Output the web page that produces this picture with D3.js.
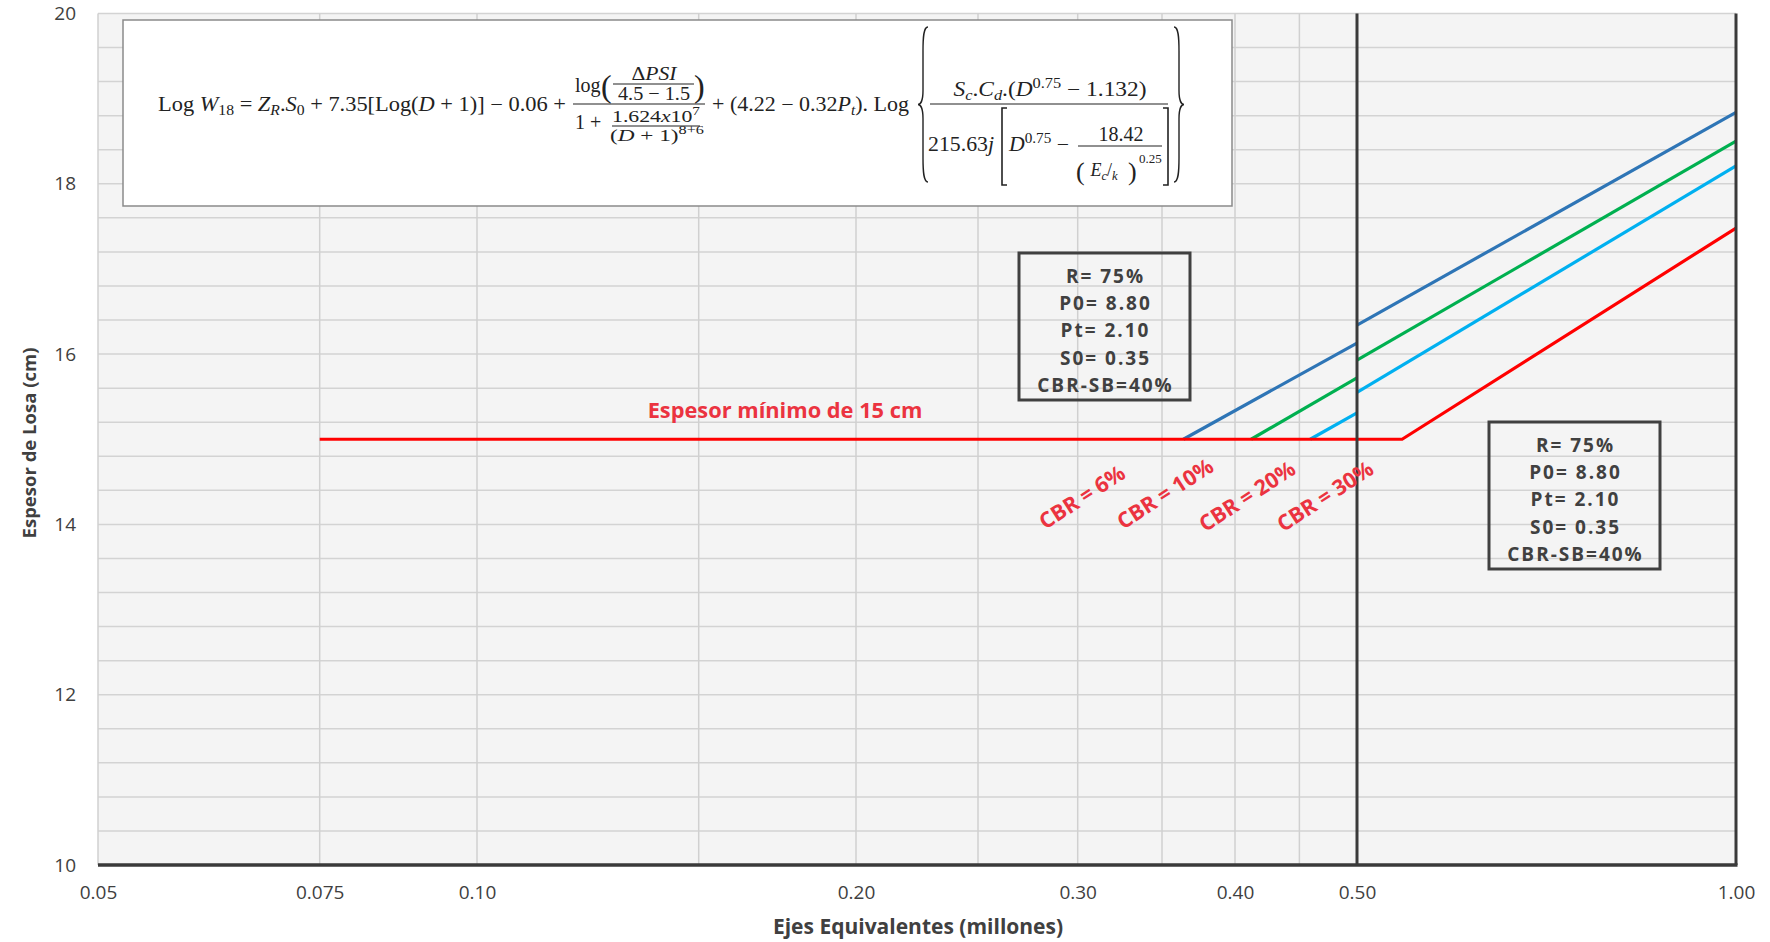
<!DOCTYPE html>
<html>
<head>
<meta charset="utf-8">
<script src="https://cdn.jsdelivr.net/npm/d3@7"></script>
<style>
  body { margin: 0; background: #fff; }
  svg text { font-family: "Open Sans", Lato, sans-serif; }
  .math text { font-family: "Liberation Serif", "DejaVu Serif", serif; fill: #222; }
</style>
</head>
<body>
<div id="chart"></div>
<script>
// values
var xTicks = [0.05, 0.075, 0.10, 0.20, 0.30, 0.40, 0.50, 1.00];
var xTickLabels = ["0.05", "0.075", "0.10", "0.20", "0.30", "0.40", "0.50", "1.00"];
var xGrid = [0.075, 0.10, 0.15, 0.20, 0.25, 0.30, 0.35, 0.40, 0.45];
var yTicks = [10, 12, 14, 16, 18, 20];
var yGrid = [10.4, 10.8, 11.2, 11.6, 12, 12.4, 12.8, 13.2, 13.6, 14, 14.4, 14.8,
             15.2, 15.6, 16, 16.4, 16.8, 17.2, 17.6, 18, 18.4, 18.8, 19.2, 19.6, 20];

// each curve: segment left of 0.50 and segment right of 0.50
var cbr6 = [[[0.364, 15], [0.50, 16.13]], [[0.50, 16.34], [1.00, 18.84]]];
var cbr10 = [[[0.412, 15], [0.50, 15.72]], [[0.50, 15.93], [1.00, 18.50]]];
var cbr20 = [[[0.459, 15], [0.50, 15.31]], [[0.50, 15.55], [1.00, 18.21]]];
var cbr30 = [[[0.075, 15], [0.543, 15], [1.00, 17.48]]];
var seriesNames = ["CBR = 6%", "CBR = 10%", "CBR = 20%", "CBR = 30%"];
var seriesColors = ["#2e75b6", "#00b050", "#00b0f0", "#ff0000"];
var params = ["R= 75%", "P0= 8.80", "Pt= 2.10", "S0= 0.35", "CBR-SB=40%"];

// label anchors (data coords)
var labelAt = [[0.3024, 14.32], [0.352, 14.36], [0.409, 14.33], [0.4717, 14.33]];

var W = 1770, H = 942;
var m = {l: 98, r: 34, t: 13.5, b: 77};

var svg = d3.select("#chart").append("svg")
    .attr("width", W)
    .attr("height", H);

var x = d3.scaleLog().domain([0.05, 1]).range([m.l, W - m.r]);
var y = d3.scaleLinear().domain([10, 20]).range([H - m.b, m.t]);

// plot area
svg.append("rect")
    .attr("x", x(0.05)).attr("y", y(20))
    .attr("width", x(1) - x(0.05)).attr("height", y(10) - y(20))
    .attr("fill", "#f4f4f4");

svg.append("g").selectAll("line").data(yGrid).join("line")
    .attr("x1", x(0.05)).attr("x2", x(1))
    .attr("y1", d => y(d)).attr("y2", d => y(d))
    .attr("stroke", "#d3d3d3").attr("stroke-width", 1.5);

svg.append("g").selectAll("line").data([0.05].concat(xGrid)).join("line")
    .attr("x1", d => x(d)).attr("x2", d => x(d))
    .attr("y1", y(20)).attr("y2", y(10))
    .attr("stroke", "#d0d0d0").attr("stroke-width", 1.5);

// formula box
var fg = svg.append("g").attr("class", "math");
fg.append("rect")
    .attr("x", 123).attr("y", 20).attr("width", 1109).attr("height", 186)
    .attr("fill", "#fff").attr("stroke", "#8a8a8a").attr("stroke-width", 1.5);

function mtext(px, py, size, parts, anchor, len) {
  var t = fg.append("text").attr("x", px).attr("y", py)
      .attr("font-size", size).attr("text-anchor", anchor || "start");
  if (len) t.attr("textLength", len).attr("lengthAdjust", "spacingAndGlyphs");
  parts.forEach(function(p) {
    var s = t.append("tspan").text(p[0]);
    var f = p[1] || "";
    if (f.indexOf("i") >= 0) s.attr("font-style", "italic");
    if (f.indexOf("b") >= 0) s.attr("font-size", size * 0.7).attr("baseline-shift", -size * 0.22);
    if (f.indexOf("p") >= 0) s.attr("font-size", size * 0.7).attr("baseline-shift", size * 0.42);
  });
  return t;
}
function bar(x1, x2, yy) {
  fg.append("line").attr("x1", x1).attr("x2", x2).attr("y1", yy).attr("y2", yy)
      .attr("stroke", "#222").attr("stroke-width", 1.2);
}
function brace(bx, y1, y2, dir) {
  var w = 10 * dir, ym = (y1 + y2) / 2, c = bx + w * 0.5;
  var p = "M" + (bx + w) + "," + y1 +
      " C" + (bx + w * 0.55) + "," + y1 + " " + c + "," + (y1 + 10) + " " + c + "," + (y1 + 24) +
      " L" + c + "," + (ym - 14) +
      " C" + c + "," + (ym - 4) + " " + (bx + w * 0.25) + "," + ym + " " + bx + "," + ym +
      " C" + (bx + w * 0.25) + "," + ym + " " + c + "," + (ym + 4) + " " + c + "," + (ym + 14) +
      " L" + c + "," + (y2 - 24) +
      " C" + c + "," + (y2 - 10) + " " + (bx + w * 0.55) + "," + y2 + " " + (bx + w) + "," + y2;
  fg.append("path").attr("d", p).attr("fill", "none").attr("stroke", "#222").attr("stroke-width", 1.4);
}
function bracket(bx, y1, y2, dir) {
  var s = 5 * dir;
  fg.append("path")
      .attr("d", "M" + (bx + s) + "," + y1 + " L" + bx + "," + y1 + " L" + bx + "," + y2 + " L" + (bx + s) + "," + y2)
      .attr("fill", "none").attr("stroke", "#222").attr("stroke-width", 1.6);
}

mtext(158, 111, 20, [["Log "], ["W", "i"], ["18", "b"], [" = "], ["Z", "i"], ["R", "ib"], ["."],
    ["S", "i"], ["0", "b"], [" + 7.35[Log("], ["D", "i"], [" + 1)] − 0.06 +"]], "start", 408);
// first fraction
mtext(575, 92, 20, [["log"]]);
mtext(601, 97, 32, [["("]]);
mtext(654, 80, 19, [["Δ"], ["PSI", "i"]], "middle", 45);
bar(613, 694, 84);
mtext(654, 100, 19, [["4.5 − 1.5"]], "middle", 72);
mtext(694, 97, 32, [[")"]]);
bar(573, 705, 104);
mtext(575, 129, 20, [["1 +"]]);
mtext(656, 122, 17, [["1.624"], ["x", "i"], ["10"], ["7", "p"]], "middle", 88);
bar(612, 700, 126);
mtext(657, 141, 17, [["("], ["D", "i"], [" + 1)"], ["8+6", "p"]], "middle", 94);

mtext(712, 111, 20, [["+ (4.22 − 0.32"], ["P", "i"], ["t", "ib"], ["). Log"]], "start", 197);
brace(918, 27, 182, 1);
brace(1184, 27, 182, -1);
mtext(1050, 96, 20, [["S", "i"], ["c", "ib"], ["."], ["C", "i"], ["d", "ib"], [".("], ["D", "i"],
    ["0.75", "p"], [" − 1.132)"]], "middle", 193);
bar(930, 1168, 104);
mtext(928, 151, 20, [["215.63"], ["j", "i"]], "start", 66);
bracket(1002, 108, 185, 1);
bracket(1168, 108, 185, -1);
mtext(1009, 151, 20, [["D", "i"], ["0.75", "p"], [" −"]], "start", 60);
mtext(1121, 141, 20, [["18.42"]], "middle");
bar(1078, 1162, 146);
mtext(1076, 180, 26, [["("]]);
mtext(1104, 176, 18, [["E", "i"], ["c", "ib"], ["/"], ["k", "ib"]], "middle");
mtext(1128, 180, 26, [[")"]]);
mtext(1139, 163, 13, [["0.25"]]);

// curves
var line = d3.line().x(d => x(d[0])).y(d => y(d[1]));
var allSeries = [cbr6, cbr10, cbr20, cbr30];
allSeries.forEach(function(segs, i) {
  svg.append("g").selectAll("path").data(segs).join("path")
      .attr("d", line)
      .attr("fill", "none")
      .attr("stroke", seriesColors[i])
      .attr("stroke-width", 3.2);
});

// parameter boxes
[[1019, 253], [1489, 422]].forEach(function(b) {
  svg.append("rect")
      .attr("x", b[0]).attr("y", b[1]).attr("width", 171).attr("height", 147)
      .attr("fill", "none").attr("stroke", "#404040").attr("stroke-width", 3);
  svg.append("g").selectAll("text").data(params).join("text")
      .attr("x", b[0] + 86.5)
      .attr("y", (d, i) => b[1] + 30 + i * 27.2)
      .attr("text-anchor", "middle")
      .attr("font-weight", "bold")
      .attr("font-size", 19)
      .attr("letter-spacing", 2)
      .attr("fill", "#404040")
      .text(d => d);
});

// dark reference lines
svg.append("g").selectAll("line").data([0.5, 1]).join("line")
    .attr("x1", d => x(d)).attr("x2", d => x(d))
    .attr("y1", y(20)).attr("y2", y(10))
    .attr("stroke", "#3a3a3a").attr("stroke-width", 3);
svg.append("line")
    .attr("x1", x(0.05)).attr("x2", x(1) + 1.5)
    .attr("y1", y(10)).attr("y2", y(10))
    .attr("stroke", "#3a3a3a").attr("stroke-width", 3.5);

// labels
svg.append("text")
    .attr("x", 785).attr("y", 418)
    .attr("text-anchor", "middle")
    .attr("font-weight", "bold").attr("font-size", 21.8)
    .attr("fill", "#eb3340")
    .text("Espesor mínimo de 15 cm");

svg.append("g").selectAll("text").data(seriesNames).join("text")
    .attr("transform", (d, i) => "translate(" + x(labelAt[i][0]) + "," + y(labelAt[i][1]) + ") rotate(-33)")
    .attr("text-anchor", "middle")
    .attr("dy", "0.35em")
    .attr("font-weight", "bold").attr("font-size", 21.5)
    .attr("fill", "#eb3340")
    .text(d => d);

// axes
var yAxis = svg.append("g")
    .attr("transform", "translate(" + m.l + ",0)")
    .call(d3.axisLeft(y).tickValues(yTicks).tickSize(0).tickPadding(22).tickFormat(d3.format("d")));
var xAxis = svg.append("g")
    .attr("transform", "translate(0," + (H - m.b) + ")")
    .call(d3.axisBottom(x).tickValues(xTicks).tickSize(0).tickPadding(21)
      .tickFormat((d, i) => xTickLabels[i]));
[yAxis, xAxis].forEach(function(a) {
  a.select(".domain").remove();
  a.selectAll("text").attr("font-size", 19).attr("fill", "#404040")
      .attr("font-family", "Lato, sans-serif");
});

svg.append("text")
    .attr("x", 918).attr("y", 934)
    .attr("text-anchor", "middle")
    .attr("font-weight", "bold").attr("font-size", 21)
    .attr("fill", "#404040")
    .text("Ejes Equivalentes (millones)");
svg.append("text")
    .attr("transform", "translate(36,443) rotate(-90)")
    .attr("text-anchor", "middle")
    .attr("font-weight", "bold").attr("font-size", 18.5)
    .attr("fill", "#404040")
    .text("Espesor de Losa (cm)");
</script>
</body>
</html>
